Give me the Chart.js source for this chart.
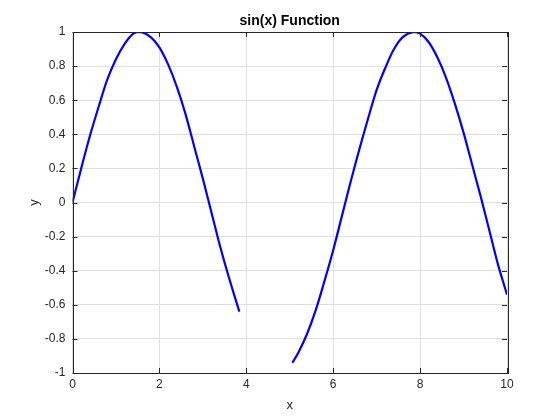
<!DOCTYPE html>
<html>
<head>
<meta charset="utf-8">
<script src="https://cdn.jsdelivr.net/npm/chart.js@4.4.0/dist/chart.umd.min.js"></script>
<style>
    html, body { margin: 0; padding: 0; background: #ffffff; }
    #wrap { width: 560px; height: 420px; }
</style>
</head>
<body>
<div id="wrap"><canvas id="sinChart" width="560" height="420"></canvas></div>
<script>
// Values: first piece of the curve, then the piece after the gap
const xPart1 = [0, 0.2, 0.4, 0.6, 0.8, 1.0, 1.2, 1.4, 1.57, 1.8, 2.0, 2.2, 2.4, 2.6, 2.8, 3.0, 3.2, 3.4, 3.6, 3.84];
const yPart1 = [0, 0.20, 0.39, 0.56, 0.72, 0.84, 0.93, 0.99, 1.00, 0.97, 0.91, 0.81, 0.68, 0.52, 0.33, 0.14, -0.06, -0.26, -0.44, -0.64];
const xPart2 = [5.06, 5.2, 5.4, 5.6, 5.8, 6.0, 6.2, 6.4, 6.6, 6.8, 7.0, 7.2, 7.4, 7.6, 7.85, 8.0, 8.2, 8.4, 8.6, 8.8, 9.0, 9.2, 9.4, 9.6, 9.8, 10.0];
const yPart2 = [-0.94, -0.88, -0.77, -0.63, -0.46, -0.28, -0.08, 0.12, 0.31, 0.49, 0.66, 0.79, 0.90, 0.97, 1.00, 0.99, 0.94, 0.85, 0.73, 0.58, 0.41, 0.22, 0.03, -0.17, -0.37, -0.54];

// Tick labels
const xTicks = [0, 2, 4, 6, 8, 10];
const yTicks = [-1, -0.8, -0.6, -0.4, -0.2, 0, 0.2, 0.4, 0.6, 0.8, 1];

const fontFamily = '"Liberation Sans", Arial, Helvetica, sans-serif';
const axisColor = '#262626';

// Build point list, a null point breaks the line at the gap
const points = [];
xPart1.forEach((x, i) => points.push({ x: x, y: yPart1[i] }));
points.push({ x: 4.45, y: null });
xPart2.forEach((x, i) => points.push({ x: x, y: yPart2[i] }));

// Box around the plot and inward tick marks (MATLAB style)
const boxPlugin = {
    id: 'boxPlugin',
    afterDatasetsDraw(chart) {
        const ctx = chart.ctx;
        const a = chart.chartArea;
        const xs = chart.scales.x;
        const ys = chart.scales.y;
        const len = 5;
        ctx.save();
        ctx.strokeStyle = axisColor;
        ctx.lineWidth = 1;
        ctx.beginPath();
        xTicks.forEach(v => {
            const px = Math.round(xs.getPixelForValue(v)) + 0.5;
            ctx.moveTo(px, a.bottom); ctx.lineTo(px, a.bottom - len);
            ctx.moveTo(px, a.top); ctx.lineTo(px, a.top + len);
        });
        yTicks.forEach(v => {
            const py = Math.round(ys.getPixelForValue(v)) + 0.5;
            ctx.moveTo(a.left, py); ctx.lineTo(a.left + len, py);
            ctx.moveTo(a.right, py); ctx.lineTo(a.right - len, py);
        });
        ctx.stroke();
        ctx.strokeRect(Math.round(a.left) + 0.5, Math.round(a.top) + 0.5,
            Math.round(a.right - a.left), Math.round(a.bottom - a.top));
        ctx.restore();
    }
};

const ctx = document.getElementById('sinChart').getContext('2d');
const sinChart = new Chart(ctx, {
    type: 'line',
    data: {
        datasets: [{
            label: 'sin(x)',
            data: points,
            borderColor: '#0000ff',
            borderWidth: 2.2,
            pointRadius: 0,
            fill: false,
            spanGaps: false,
            tension: 0.3
        }]
    },
    options: {
        responsive: false,
        animation: false,
        devicePixelRatio: 1,
        layout: {
            padding: { top: 0, right: 53, bottom: 0, left: 0 }
        },
        plugins: {
            legend: { display: false },
            tooltip: { enabled: false },
            title: {
                display: true,
                fullSize: false,
                text: 'sin(x) Function',
                color: '#000000',
                font: { family: fontFamily, size: 14, weight: 'bold' },
                padding: { top: 12.6, bottom: 2.6 }
            }
        },
        scales: {
            x: {
                type: 'linear',
                min: 0,
                max: 10,
                afterBuildTicks: s => { s.ticks = xTicks.map(v => ({ value: v })); },
                afterFit: s => { s.height = 47; },
                grid: { color: '#dfdfdf', drawTicks: false },
                border: { display: false },
                ticks: {
                    color: axisColor,
                    padding: 4,
                    maxRotation: 0,
                    font: { family: fontFamily, size: 12 }
                },
                title: {
                    display: true,
                    text: 'x',
                    color: axisColor,
                    font: { family: fontFamily, size: 13 },
                    padding: { top: 0, bottom: 7 }
                }
            },
            y: {
                type: 'linear',
                min: -1,
                max: 1,
                afterBuildTicks: s => { s.ticks = yTicks.map(v => ({ value: v })); },
                afterFit: s => { s.width = 72.5; },
                grid: { color: '#dfdfdf', drawTicks: false },
                border: { display: false },
                ticks: {
                    color: axisColor,
                    padding: 7,
                    font: { family: fontFamily, size: 12 },
                    callback: v => String(Math.round(v * 10) / 10)
                },
                title: {
                    display: true,
                    text: 'y',
                    color: axisColor,
                    font: { family: fontFamily, size: 13 },
                    padding: { top: 27, bottom: 0 }
                }
            }
        }
    },
    plugins: [boxPlugin]
});
</script>
</body>
</html>
